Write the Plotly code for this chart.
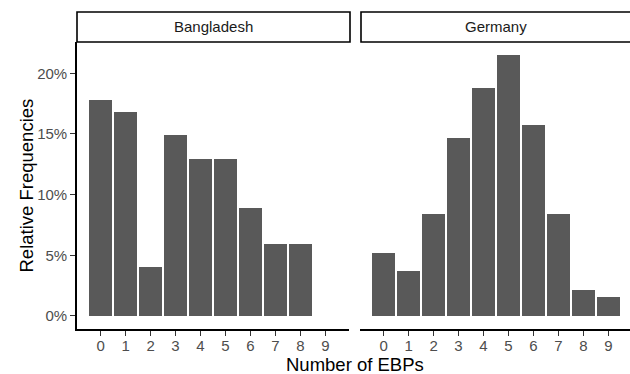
import plotly.graph_objects as go

W, H = 630, 374

ebps = list(range(10))
bangladesh_x = [0, 1, 2, 3, 4, 5, 6, 7, 8]
bangladesh_pct = [17.8, 16.8, 4.0, 14.9, 12.9, 12.9, 8.9, 5.9, 5.9]
germany_x = [0, 1, 2, 3, 4, 5, 6, 7, 8, 9]
germany_pct = [5.2, 3.7, 8.4, 14.7, 18.8, 21.5, 15.7, 8.4, 2.1, 1.6]
y_ticks = [0, 5, 10, 15, 20]
y_ticklabels = ["0%", "5%", "10%", "15%", "20%"]
facets = ["Bangladesh", "Germany"]

BAR = "#595959"
FONT = "Liberation Sans, Arial, sans-serif"
TICKF = 15
TITLEF = 18.5

def px(x):
    return x / W

def py(y):
    return 1 - y / H

# panel geometry (pixels)
L1, R1 = 77, 349
L2, R2 = 360, 630
TOP, BOT = 42, 329
unit = (R1 - L1) / 10.89

fig = go.Figure()
fig.add_trace(go.Bar(x=bangladesh_x, y=bangladesh_pct, width=0.9,
                     marker=dict(color=BAR, line=dict(width=0)),
                     xaxis="x", yaxis="y", showlegend=False))
fig.add_trace(go.Bar(x=germany_x, y=germany_pct, width=0.9,
                     marker=dict(color=BAR, line=dict(width=0)),
                     xaxis="x2", yaxis="y2", showlegend=False))

xcommon = dict(tickmode="array", tickvals=ebps, ticktext=[str(v) for v in ebps],
               ticks="outside", ticklen=5, tickwidth=1.2, tickcolor="#333333",
               ticklabelstandoff=-3,
               showline=True, linecolor="black", linewidth=1.6,
               showgrid=False, zeroline=False, automargin=False,
               tickfont=dict(family=FONT, size=TICKF, color="#4D4D4D"))
yrange = [-1.075, 22.575]

fig.update_layout(
    width=W, height=H,
    margin=dict(l=0, r=0, t=0, b=0),
    paper_bgcolor="white", plot_bgcolor="white",
    bargap=0,
    xaxis=dict(domain=[px(L1), px(R1)], range=[-0.945, 9.945], anchor="y", **xcommon),
    xaxis2=dict(domain=[px(L2), px(R2)], range=[-0.945, 9.945 - (R1 - L1 - (R2 - L2)) / unit],
                anchor="y2", **xcommon),
    yaxis=dict(domain=[py(BOT), py(TOP)], range=yrange, anchor="x",
               tickmode="array", tickvals=y_ticks, ticktext=y_ticklabels,
               ticks="outside", ticklen=5, tickwidth=1.2, tickcolor="#333333",
               showline=True, linecolor="black", linewidth=1.6,
               showgrid=False, zeroline=False, automargin=False,
               tickfont=dict(family=FONT, size=TICKF, color="#4D4D4D")),
    yaxis2=dict(domain=[py(BOT), py(TOP)], range=yrange, anchor="x2",
                showticklabels=False, ticks="", showline=False,
                showgrid=False, zeroline=False, automargin=False),
)

# strips
strips = [(L1, R1 + 1, facets[0]), (L2 + 1, R2 + 12, facets[1])]
for x0, x1, label in strips:
    fig.add_shape(type="rect", xref="paper", yref="paper",
                  x0=px(x0), x1=px(x1), y0=py(42), y1=py(12),
                  line=dict(color="black", width=1.6), fillcolor="white")
for (x0, x1, label), (a, b) in zip(strips, [(L1, R1), (L2, L2 + (R1 - L1))]):
    fig.add_annotation(x=px((a + b) / 2), y=py(27), xref="paper", yref="paper",
                       text=label, showarrow=False, xanchor="center", yanchor="middle",
                       font=dict(family=FONT, size=TICKF, color="#1A1A1A"))

# axis titles
fig.add_annotation(x=px(26), y=py((TOP + BOT) / 2), xref="paper", yref="paper",
                   text="Relative Frequencies", textangle=-90, showarrow=False,
                   xanchor="center", yanchor="middle",
                   font=dict(family=FONT, size=TITLEF, color="black"))
fig.add_annotation(x=px((L1 + L2 + (R1 - L1)) / 2), y=py(364.5), xref="paper", yref="paper",
                   text="Number of EBPs", showarrow=False,
                   xanchor="center", yanchor="middle",
                   font=dict(family=FONT, size=TITLEF, color="black"))

fig.write_html("out.html", config={"displayModeBar": False},
               post_script="document.body.style.margin='0px';document.body.style.overflow='hidden';")
